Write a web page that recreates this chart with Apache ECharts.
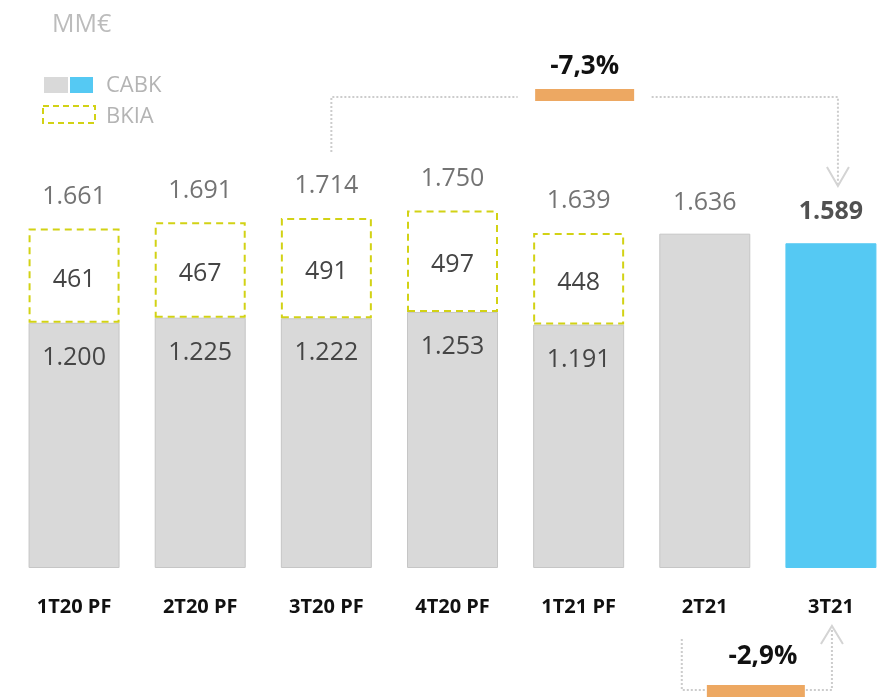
<!DOCTYPE html>
<html>
<head>
<meta charset="utf-8">
<script src="https://cdn.jsdelivr.net/npm/echarts@6/dist/echarts.min.js"></script>
<style>
  html, body { margin: 0; padding: 0; background: #fff; }
  #main { width: 877px; height: 697px; }
</style>
</head>
<body>
<div id="main"></div>
<script>
// datos (MM€)
var categories = ['1T20 PF', '2T20 PF', '3T20 PF', '4T20 PF', '1T21 PF', '2T21', '3T21'];
var cabk = [1200, 1225, 1222, 1253, 1191, 1636, 1589];
var bkia = [461, 467, 491, 497, 448, null, null];
var totals = [1661, 1691, 1714, 1750, 1639, 1636, 1589];
var changeYear = '-7,3%';
var changeQuarter = '-2,9%';

var GREY = '#d9d9d9', BLUE = '#55c9f3', YELLOW = '#d2d215', ORANGE = '#eda862';
var FONT = '"Open Sans", "Noto Sans", sans-serif';

function fmt(v) {
    return String(v).replace(/\B(?=(\d{3})+(?!\d))/g, '.');
}

var chart = echarts.init(document.getElementById('main'));
var last = categories.length - 1;

var cabkData = cabk.map(function (v, i) {
    var item = { value: v, label: { show: i < 5 } };
    if (i === last) item.itemStyle = { color: BLUE, borderColor: BLUE };
    return item;
});
var bkiaData = bkia.map(function (v) { return v == null ? '-' : v; });
var totalData = totals.map(function (v, i) {
    var item = { value: [i, v] };
    if (i === last) item.label = { fontWeight: 'bold', color: '#262626', distance: 18 };
    if (i === 5) item.label = { distance: 18 };
    return item;
});

var option = {
    animation: false,
    textStyle: { fontFamily: FONT },
    grid: { left: 11, width: 883, top: 98, bottom: 129, outerBoundsMode: 'none', containLabel: false },
    xAxis: {
        type: 'category',
        data: categories,
        axisLine: { show: false },
        axisTick: { show: false },
        axisLabel: { color: '#111', fontWeight: 'bold', fontSize: 20, margin: 29, fontFamily: FONT }
    },
    yAxis: { type: 'value', min: 0, max: 2300, show: false, splitLine: { show: false } },
    series: [
        {
            name: 'CABK', type: 'bar', stack: 'a', barWidth: 91,
            itemStyle: { color: GREY, borderColor: '#c6c6c6', borderWidth: 1 },
            label: {
                position: ['50%', 35], align: 'center', verticalAlign: 'middle',
                fontSize: 25, color: '#454545', fontFamily: FONT,
                formatter: function (p) { return fmt(p.value); }
            },
            data: cabkData
        },
        {
            name: 'BKIA', type: 'bar', stack: 'a', barWidth: 91,
            itemStyle: { color: '#fff', borderColor: YELLOW, borderWidth: 2, borderType: [7, 5] },
            label: {
                show: true, position: 'inside', offset: [0, 4], fontSize: 25, color: '#454545', fontFamily: FONT
            },
            data: bkiaData
        },
        {
            name: 'Total', type: 'scatter', symbolSize: 1,
            itemStyle: { color: 'rgba(0,0,0,0)' },
            label: {
                show: true, position: 'top', distance: 19, fontSize: 25, color: '#505050', fontFamily: FONT,
                formatter: function (p) { return fmt(p.value[1]); }
            },
            data: totalData
        }
    ]
};
chart.setOption(option);

// anotaciones y leyenda
function px(i) { return chart.convertToPixel({ gridIndex: 0 }, [i, 0])[0]; }
var dotted = { stroke: '#cccccc', lineWidth: 2, lineDash: [2, 2], fill: null };
var arrow = { stroke: '#d4d4d4', lineWidth: 2, fill: null };

var xL = px(2) + 5, xR = px(last) + 7, xM = (xL + xR) / 2;
var xb1 = px(5) - 23, xb2 = px(last) + 1, xbM = (xb1 + xb2) / 2;

var graphics = [
    // variación interanual
    { type: 'polyline', shape: { points: [[xL, 152], [xL, 97], [xM - 67, 97]] }, style: dotted },
    { type: 'polyline', shape: { points: [[xM + 67, 97], [xR, 97], [xR, 185]] }, style: dotted },
    { type: 'polyline', shape: { points: [[xR - 11, 167], [xR, 186], [xR + 11, 167]] }, style: arrow },
    { type: 'rect', shape: { x: xM - 49.5, y: 89, width: 99, height: 12 }, style: { fill: ORANGE } },
    { type: 'text', x: xM, y: 67, style: { text: changeYear, font: 'bold 26px ' + FONT, fill: '#111', align: 'center', verticalAlign: 'middle' } },
    // variación trimestral
    { type: 'polyline', shape: { points: [[xb1, 639], [xb1, 690], [xbM - 51, 690]] }, style: dotted },
    { type: 'polyline', shape: { points: [[xbM + 49, 690], [xb2, 690], [xb2, 627]] }, style: dotted },
    { type: 'polyline', shape: { points: [[xb2 - 11, 644], [xb2, 626], [xb2 + 11, 644]] }, style: arrow },
    { type: 'rect', shape: { x: xbM - 50, y: 685, width: 98, height: 14 }, style: { fill: ORANGE } },
    { type: 'text', x: xbM + 6, y: 657, style: { text: changeQuarter, font: 'bold 26px ' + FONT, fill: '#111', align: 'center', verticalAlign: 'middle' } },
    // unidades y leyenda
    { type: 'text', x: 52, y: 25, style: { text: 'MM€', font: '25px ' + FONT, fill: '#bcbcbc', verticalAlign: 'middle' } },
    { type: 'rect', shape: { x: 44, y: 77, width: 24, height: 16 }, style: { fill: GREY } },
    { type: 'rect', shape: { x: 70, y: 77, width: 23, height: 16 }, style: { fill: BLUE } },
    { type: 'rect', shape: { x: 43, y: 106, width: 52, height: 17 }, style: { fill: null, stroke: YELLOW, lineWidth: 2, lineDash: [6, 4] } },
    { type: 'text', x: 106, y: 86, style: { text: 'CABK', font: '22px ' + FONT, fill: '#b4b4b4', verticalAlign: 'middle' } },
    { type: 'text', x: 106, y: 117, style: { text: 'BKIA', font: '22px ' + FONT, fill: '#b4b4b4', verticalAlign: 'middle' } }
];
chart.setOption({ graphic: graphics });
</script>
</body>
</html>
